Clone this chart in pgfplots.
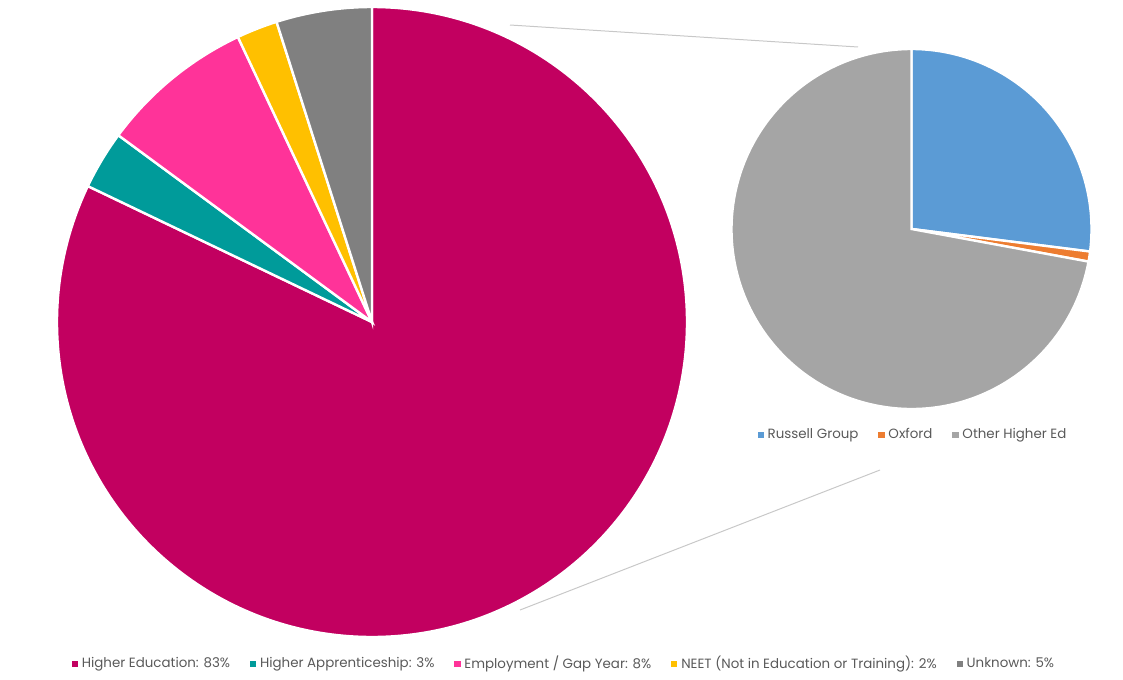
\documentclass[border=0pt]{standalone}
\usepackage{fontspec}
\setmainfont{Poppins}
\usepackage{pgfplots}
\pgfplotsset{compat=1.18}

\definecolor{heA}{HTML}{C20060}
\definecolor{heB}{HTML}{009B9A}
\definecolor{heC}{HTML}{FF3399}
\definecolor{heD}{HTML}{FFC000}
\definecolor{heE}{HTML}{808080}
\definecolor{hiA}{HTML}{5B9BD5}
\definecolor{hiB}{HTML}{ED7D31}
\definecolor{hiC}{HTML}{A5A5A5}
\definecolor{txt}{HTML}{595959}
\definecolor{lin}{HTML}{C8C8C8}

% one axis unit = one pixel of the reference, 0.5pt each
\pgfplotsset{
  pie axis/.style={width=561.5pt, height=337pt, scale only axis,
    xmin=0, xmax=1123, ymin=0, ymax=674, hide axis, clip=false,
    legend style={draw=none, fill=none, text=txt,
      font=\fontsize{6.7}{8}\selectfont, legend columns=-1,
      /tikz/every even column/.append style={column sep=8pt}},
    legend cell align=left},
  sq/.style={legend image code/.code={\fill[#1] (0pt,-1.3pt) rectangle (2.6pt,1.3pt);}},
}

\begin{document}
\begin{tikzpicture}
\begin{axis}[pie axis,
    legend style={at={(axis cs:565,10)}, anchor=center}]
  \path (axis cs:0,0) rectangle (axis cs:1123,674);
  % main pie, clockwise from 12 o'clock
  \def\ang{90}
  \foreach \v/\c in {82.1/heA, 3.0/heB, 7.9/heC, 2.1/heD, 4.9/heE}{
    \pgfmathsetmacro\nxt{\ang-3.6*\v}
    \edef\temp{\noexpand\fill[\c, draw=white, line width=1.2pt] (axis cs:372,352) -- ++(\ang:157.5pt)
      arc[start angle=\ang, end angle=\nxt, radius=157.5pt] -- cycle;}
    \temp
    \global\let\ang\nxt
  }
  \addplot[lin, line width=0.5pt, forget plot] coordinates {(510,649) (858,627)};
  \addplot[lin, line width=0.5pt, forget plot] coordinates {(520,64) (880,204)};
  \addlegendimage{sq=heA}\addlegendentry{Higher Education: 83\%}
  \addlegendimage{sq=heB}\addlegendentry{Higher Apprenticeship: 3\%}
  \addlegendimage{sq=heC}\addlegendentry{Employment / Gap Year: 8\%}
  \addlegendimage{sq=heD}\addlegendentry{NEET (Not in Education or Training): 2\%}
  \addlegendimage{sq=heE}\addlegendentry{Unknown: 5\%}
\end{axis}

\begin{axis}[pie axis,
    legend style={at={(axis cs:914,239)}, anchor=center}]
  % breakdown of Higher Education
  \def\ang{90}
  \foreach \v/\c in {27.0/hiA, 0.9/hiB, 72.1/hiC}{
    \pgfmathsetmacro\nxt{\ang-3.6*\v}
    \edef\temp{\noexpand\fill[\c, draw=white, line width=1.2pt] (axis cs:911.5,445) -- ++(\ang:90pt)
      arc[start angle=\ang, end angle=\nxt, radius=90pt] -- cycle;}
    \temp
    \global\let\ang\nxt
  }
  \addlegendimage{sq=hiA}\addlegendentry{Russell Group}
  \addlegendimage{sq=hiB}\addlegendentry{Oxford}
  \addlegendimage{sq=hiC}\addlegendentry{Other Higher Ed}
\end{axis}
\end{tikzpicture}
\end{document}
